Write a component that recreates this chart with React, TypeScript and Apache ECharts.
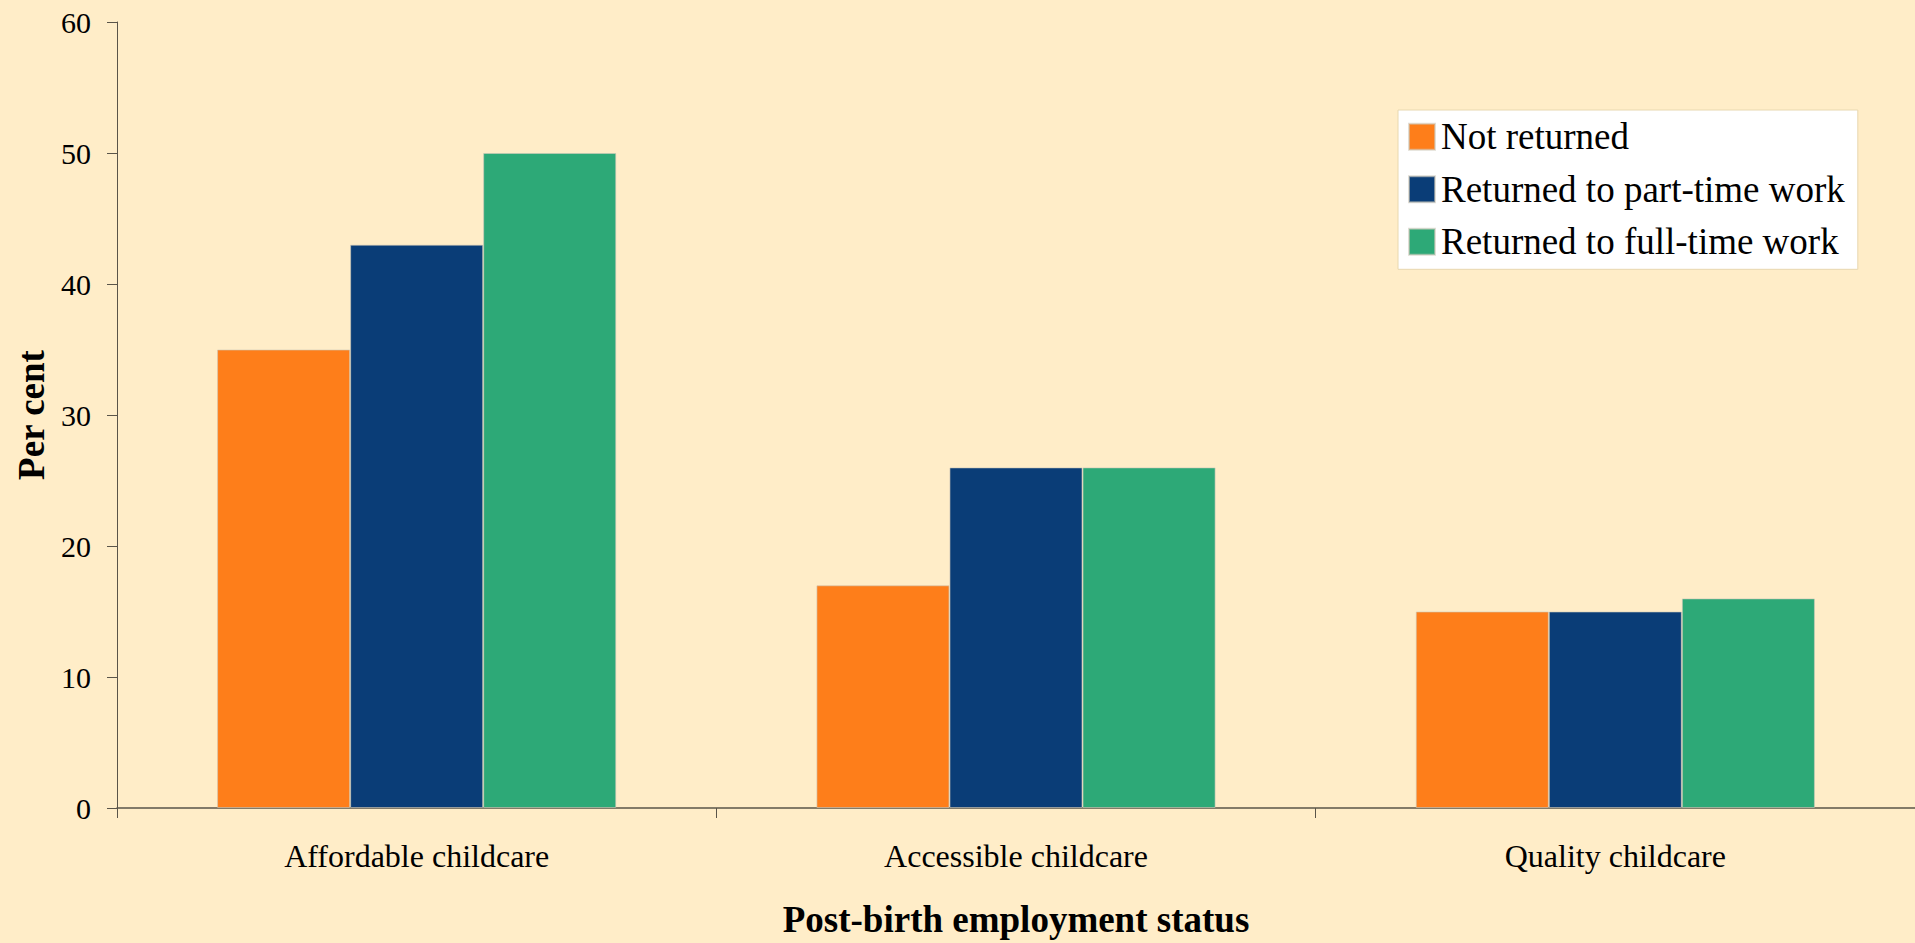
import React, { useEffect, useRef } from "react";
import * as echarts from "echarts";

// Reasons cited for childcare, by post-birth employment status (per cent)
const categories = ["Affordable childcare", "Accessible childcare", "Quality childcare"];
const seriesNames = ["Not returned", "Returned to part-time work", "Returned to full-time work"];
const notReturned = [35, 17, 15];
const returnedPartTime = [43, 26, 15];
const returnedFullTime = [50, 26, 16];
const seriesColors = ["#FE7E1A", "#0A3D77", "#2DA977"];

const SERIF = "'Liberation Serif', 'Times New Roman', Times, serif";

export default function App() {
  const ref = useRef<HTMLDivElement | null>(null);

  useEffect(() => {
    if (!ref.current) return;
    const chart = echarts.init(ref.current, undefined, { renderer: "svg" });
    const values = [notReturned, returnedPartTime, returnedFullTime];

    chart.setOption({
      animation: false,
      backgroundColor: "#FFEDC8",
      textStyle: { fontFamily: SERIF, color: "#000" },
      grid: { left: 117, right: 0, top: 22, bottom: 134.4, containLabel: false },
      legend: {
        orient: "vertical",
        left: 1398,
        top: 110,
        itemWidth: 26,
        itemHeight: 26,
        itemGap: 15.5,
        padding: [8.3, 13, 9, 10],
        backgroundColor: "#FFFFFF",
        borderColor: "#E8D8B0",
        borderWidth: 1,
        icon: "rect",
        textStyle: { fontFamily: SERIF, fontSize: 37, color: "#000", padding: [0, 0, 0, 1] },
        data: seriesNames,
      },
      xAxis: {
        type: "category",
        data: categories,
        name: "Post-birth employment status",
        nameLocation: "middle",
        nameGap: 93,
        nameTextStyle: { fontFamily: SERIF, fontSize: 37, fontWeight: "bold", color: "#000" },
        axisLine: { show: true, lineStyle: { color: "#5A5449", width: 1.5 } },
        axisTick: { show: true, length: 10, inside: false, lineStyle: { color: "#5A5449" } },
        axisLabel: { fontFamily: SERIF, fontSize: 32, color: "#000", margin: 32 },
        splitLine: { show: false },
      },
      yAxis: {
        type: "value",
        min: 0,
        max: 60,
        interval: 10,
        name: "Per cent",
        nameLocation: "middle",
        nameGap: 67,
        nameRotate: 90,
        nameTextStyle: { fontFamily: SERIF, fontSize: 37, fontWeight: "bold", color: "#000" },
        axisLine: { show: true, lineStyle: { color: "#5A5449", width: 1 } },
        axisTick: { show: true, length: 10, inside: false, lineStyle: { color: "#5A5449" } },
        axisLabel: { fontFamily: SERIF, fontSize: 30, color: "#000", margin: 26 },
        splitLine: { show: false },
      },
      series: seriesNames.map((name, i) => ({
        name,
        type: "bar",
        data: values[i],
        barWidth: "22.2%",
        barGap: "0%",
        itemStyle: {
          color: seriesColors[i],
          borderColor: "rgba(205,200,185,0.6)",
          borderWidth: 1,
        },
      })),
    });

    return () => {
      chart.dispose();
    };
  }, []);

  return (
    <div
      ref={ref}
      style={{ position: "fixed", left: 0, top: 0, width: 1915, height: 943 }}
    />
  );
}
